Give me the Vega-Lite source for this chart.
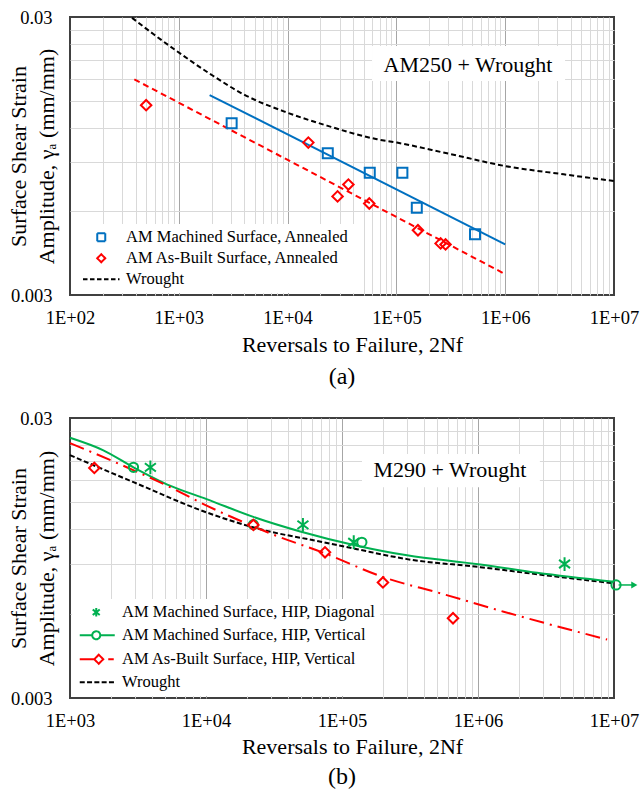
{
  "$schema": "https://vega.github.io/schema/vega-lite/v6.json",
  "background": "white",
  "padding": {"left": 5, "top": 7, "right": 0, "bottom": 0},
  "spacing": 18,
  "config": {
    "font": "Liberation Serif",
    "view": {"stroke": "#404040", "strokeWidth": 2},
    "axis": {
      "labelFont": "Liberation Serif", "titleFont": "Liberation Serif",
      "labelColor": "#000000", "titleColor": "#000000",
      "labelFontSize": 18.5, "titleFontSize": 22, "titleFontWeight": "normal",
      "ticks": false, "tickSize": 0, "domain": false, "grid": true, "gridWidth": 1,
      "labelFlush": false, "labelOverlap": false
    },
    "title": {"font": "Liberation Serif", "fontSize": 24, "fontWeight": "normal", "color": "#000000"}
  },
  "resolve": {"scale": {"x": "independent", "y": "independent", "color": "independent"}, "legend": {"color": "independent"}},
  "datasets": {
    "a_note": [{"label": "AM250 + Wrought"}],
    "a_m_pts": [
      {"series": "AM Machined Surface, Annealed", "N": 3060, "g": 0.01245},
      {"series": "AM Machined Surface, Annealed", "N": 23400, "g": 0.00971},
      {"series": "AM Machined Surface, Annealed", "N": 56900, "g": 0.00825},
      {"series": "AM Machined Surface, Annealed", "N": 113500, "g": 0.00825},
      {"series": "AM Machined Surface, Annealed", "N": 154000, "g": 0.00618},
      {"series": "AM Machined Surface, Annealed", "N": 528000, "g": 0.00496}
    ],
    "a_ab_pts": [
      {"series": "AM As-Built Surface, Annealed", "N": 501, "g": 0.01445},
      {"series": "AM As-Built Surface, Annealed", "N": 15500, "g": 0.0106},
      {"series": "AM As-Built Surface, Annealed", "N": 28800, "g": 0.00679},
      {"series": "AM As-Built Surface, Annealed", "N": 36200, "g": 0.00749},
      {"series": "AM As-Built Surface, Annealed", "N": 56300, "g": 0.0064},
      {"series": "AM As-Built Surface, Annealed", "N": 157800, "g": 0.00513},
      {"series": "AM As-Built Surface, Annealed", "N": 255000, "g": 0.0046},
      {"series": "AM As-Built Surface, Annealed", "N": 283000, "g": 0.00456}
    ],
    "a_m_fit": [
      {"series": "AM Machined Surface, Annealed", "N": 1920, "g": 0.01572},
      {"series": "AM Machined Surface, Annealed", "N": 1000000, "g": 0.00456}
    ],
    "a_ab_fit": [
      {"series": "AM As-Built Surface, Annealed", "N": 390, "g": 0.0179},
      {"series": "AM As-Built Surface, Annealed", "N": 955000, "g": 0.0036}
    ],
    "a_wrought": [
      {"series": "Wrought", "N": 372, "g": 0.0298},
      {"series": "Wrought", "N": 587, "g": 0.026},
      {"series": "Wrought", "N": 961, "g": 0.0226},
      {"series": "Wrought", "N": 1950, "g": 0.0187},
      {"series": "Wrought", "N": 3950, "g": 0.0158},
      {"series": "Wrought", "N": 9860, "g": 0.0136},
      {"series": "Wrought", "N": 23000, "g": 0.0122},
      {"series": "Wrought", "N": 66400, "g": 0.0109},
      {"series": "Wrought", "N": 101000, "g": 0.0106},
      {"series": "Wrought", "N": 292000, "g": 0.0097},
      {"series": "Wrought", "N": 1000000, "g": 0.00873},
      {"series": "Wrought", "N": 3450000, "g": 0.00815},
      {"series": "Wrought", "N": 10000000, "g": 0.00771}
    ],
    "b_note": [{"label": "M290 + Wrought"}],
    "b_diag": [
      {"series": "AM Machined Surface, HIP, Diagonal", "N": 3900, "g": 0.02},
      {"series": "AM Machined Surface, HIP, Diagonal", "N": 51600, "g": 0.01245},
      {"series": "AM Machined Surface, HIP, Diagonal", "N": 122000, "g": 0.0108},
      {"series": "AM Machined Surface, HIP, Diagonal", "N": 4330000, "g": 0.00903}
    ],
    "b_vert": [
      {"series": "AM Machined Surface, HIP, Vertical", "N": 2930, "g": 0.02},
      {"series": "AM Machined Surface, HIP, Vertical", "N": 22300, "g": 0.01248},
      {"series": "AM Machined Surface, HIP, Vertical", "N": 140000, "g": 0.0108},
      {"series": "AM Machined Surface, HIP, Vertical", "N": 10350000, "g": 0.0076}
    ],
    "b_ab": [
      {"series": "AM As-Built Surface, HIP, Vertical", "N": 1510, "g": 0.0199},
      {"series": "AM As-Built Surface, HIP, Vertical", "N": 22300, "g": 0.01245},
      {"series": "AM As-Built Surface, HIP, Vertical", "N": 75000, "g": 0.00994},
      {"series": "AM As-Built Surface, HIP, Vertical", "N": 200000, "g": 0.00776},
      {"series": "AM As-Built Surface, HIP, Vertical", "N": 655000, "g": 0.00578}
    ],
    "b_vert_fit": [
      {"series": "AM Machined Surface, HIP, Vertical", "N": 1000, "g": 0.0255},
      {"series": "AM Machined Surface, HIP, Vertical", "N": 1760, "g": 0.023},
      {"series": "AM Machined Surface, HIP, Vertical", "N": 2930, "g": 0.02},
      {"series": "AM Machined Surface, HIP, Vertical", "N": 5430, "g": 0.0172},
      {"series": "AM Machined Surface, HIP, Vertical", "N": 10100, "g": 0.0154},
      {"series": "AM Machined Surface, HIP, Vertical", "N": 22300, "g": 0.0133},
      {"series": "AM Machined Surface, HIP, Vertical", "N": 49300, "g": 0.0118},
      {"series": "AM Machined Surface, HIP, Vertical", "N": 128800, "g": 0.0105},
      {"series": "AM Machined Surface, HIP, Vertical", "N": 300600, "g": 0.0097},
      {"series": "AM Machined Surface, HIP, Vertical", "N": 701000, "g": 0.0092},
      {"series": "AM Machined Surface, HIP, Vertical", "N": 1040000, "g": 0.009},
      {"series": "AM Machined Surface, HIP, Vertical", "N": 2720000, "g": 0.0084},
      {"series": "AM Machined Surface, HIP, Vertical", "N": 10000000, "g": 0.0078}
    ],
    "b_ab_fit": [
      {"series": "AM As-Built Surface, HIP, Vertical", "N": 1000, "g": 0.0244},
      {"series": "AM As-Built Surface, HIP, Vertical", "N": 2080, "g": 0.021},
      {"series": "AM As-Built Surface, HIP, Vertical", "N": 5430, "g": 0.017},
      {"series": "AM As-Built Surface, HIP, Vertical", "N": 10100, "g": 0.0146},
      {"series": "AM As-Built Surface, HIP, Vertical", "N": 22300, "g": 0.0123},
      {"series": "AM As-Built Surface, HIP, Vertical", "N": 29800, "g": 0.0116},
      {"series": "AM As-Built Surface, HIP, Vertical", "N": 73300, "g": 0.0099},
      {"series": "AM As-Built Surface, HIP, Vertical", "N": 202000, "g": 0.0081},
      {"series": "AM As-Built Surface, HIP, Vertical", "N": 528000, "g": 0.0071},
      {"series": "AM As-Built Surface, HIP, Vertical", "N": 1545000, "g": 0.0061},
      {"series": "AM As-Built Surface, HIP, Vertical", "N": 8900000, "g": 0.00485}
    ],
    "b_wrought": [
      {"series": "Wrought", "N": 1000, "g": 0.0221},
      {"series": "Wrought", "N": 2930, "g": 0.0177},
      {"series": "Wrought", "N": 10100, "g": 0.0138},
      {"series": "Wrought", "N": 23700, "g": 0.0121},
      {"series": "Wrought", "N": 73300, "g": 0.0108},
      {"series": "Wrought", "N": 128800, "g": 0.0102},
      {"series": "Wrought", "N": 300600, "g": 0.0094},
      {"series": "Wrought", "N": 1040000, "g": 0.0088},
      {"series": "Wrought", "N": 2720000, "g": 0.0083},
      {"series": "Wrought", "N": 10000000, "g": 0.0077}
    ],
    "b_runout": [
      {"N": 10800000, "g": 0.0076},
      {"N": 13600000, "g": 0.0076}
    ],
    "b_runout_tip": [
      {"N": 14100000, "g": 0.0076}
    ]
  },
  "vconcat": [
    {
      "width": 544,
      "height": 278,
      "title": {"text": "(a)", "orient": "bottom", "anchor": "middle", "offset": 9},
      "layer": [
        {
          "data": {"name": "a_note"},
          "mark": {"type": "rect", "fill": "white"},
          "encoding": {
            "x": {"datum": 59700, "type": "quantitative",
              "scale": {"type": "log", "domain": [100, 10000000], "nice": false},
              "axis": {
                "title": "Reversals to Failure, 2Nf",
                "titleX": 282, "titleAlign": "center",
                "labelPadding": 13, "titlePadding": 8,
                "values": [100,200,300,400,500,600,700,800,900,1000,2000,3000,4000,5000,6000,7000,8000,9000,10000,20000,30000,40000,50000,60000,70000,80000,90000,100000,200000,300000,400000,500000,600000,700000,800000,900000,1000000,2000000,3000000,4000000,5000000,6000000,7000000,8000000,9000000,10000000],
                "labelExpr": "abs(log(datum.value)/LN10 - round(log(datum.value)/LN10)) < 0.001 ? '1E+0' + round(log(datum.value)/LN10) : ''",
                "gridColor": {"condition": {"test": "abs(log(datum.value)/LN10 - round(log(datum.value)/LN10)) < 0.001", "value": "#a6a6a6"}, "value": "#d9d9d9"},
                "gridOpacity": {"condition": {"test": "datum.value <= 100 || datum.value >= 10000000", "value": 0}, "value": 1}
              }
            },
            "x2": {"datum": 3550000},
            "y": {"datum": 0.02359, "type": "quantitative",
              "scale": {"type": "log", "domain": [0.003, 0.03], "nice": false},
              "axis": {
                "title": ["Surface Shear Strain", "Amplitude, γₐ (mm/mm)"],
                "titleAngle": -90, "titleX": -52, "titleY": 139, "titleAlign": "center", "titleBaseline": "middle", "titleLineHeight": 28,
                "labelPadding": 18,
                "values": [0.003, 0.006, 0.009, 0.012, 0.015, 0.018, 0.021, 0.024, 0.027, 0.03],
                "labelExpr": "datum.value == 0.03 ? '0.03' : datum.value == 0.003 ? '0.003' : ''",
                "gridColor": "#d9d9d9",
                "gridOpacity": {"condition": {"test": "datum.value <= 0.003 || datum.value >= 0.03", "value": 0}, "value": 1}
              }
            },
            "y2": {"datum": 0.01766}
          }
        },
        {
          "data": {"name": "a_note"},
          "mark": {"type": "text", "font": "Liberation Serif", "fontSize": 22, "align": "center", "baseline": "middle", "color": "#000000"},
          "encoding": {
            "x": {"datum": 455000, "type": "quantitative", "scale": {"type": "log", "domain": [100, 10000000], "nice": false}},
            "y": {"datum": 0.0202, "type": "quantitative", "scale": {"type": "log", "domain": [0.003, 0.03], "nice": false}},
            "text": {"field": "label"}
          }
        },
        {
          "data": {"name": "a_m_fit"},
          "mark": {"type": "line", "strokeWidth": 2},
          "encoding": {
            "x": {"field": "N", "type": "quantitative", "scale": {"type": "log", "domain": [100, 10000000], "nice": false}},
            "y": {"field": "g", "type": "quantitative", "scale": {"type": "log", "domain": [0.003, 0.03], "nice": false}},
            "color": {"field": "series", "type": "nominal",
              "scale": {"domain": ["AM Machined Surface, Annealed", "AM As-Built Surface, Annealed", "Wrought"], "range": ["#0070C0", "#FF0000", "#000000"]},
              "legend": {
                "orient": "bottom-left", "offset": 2, "title": null, "fillColor": "white", "padding": 5,
                "labelFont": "Liberation Serif", "labelFontSize": 16.5, "labelColor": "#000000", "labelLimit": 400,
                "symbolSize": 100, "symbolStrokeWidth": 2, "rowPadding": 4, "symbolOffset": 16, "labelOffset": 16.5,
                "encode": {"symbols": {"update": {
                  "shape": {"signal": "datum.value === 'Wrought' ? 'M-3.65,0H3.65' : datum.value === 'AM Machined Surface, Annealed' ? 'M-0.8,-0.8H0.8V0.8H-0.8Z' : 'M0,-0.8L0.8,0L0,0.8L-0.8,0Z'"},
                  "strokeDash": {"signal": "datum.value === 'Wrought' ? [4.5,2.5] : [1,0]"},
                  "fill": {"value": "transparent"},
                  "opacity": {"value": 1}
                }}}
              }
            }
          }
        },
        {
          "data": {"name": "a_ab_fit"},
          "mark": {"type": "line", "strokeWidth": 2, "strokeDash": [6, 4]},
          "encoding": {
            "x": {"field": "N", "type": "quantitative", "scale": {"type": "log", "domain": [100, 10000000], "nice": false}},
            "y": {"field": "g", "type": "quantitative", "scale": {"type": "log", "domain": [0.003, 0.03], "nice": false}},
            "color": {"field": "series", "type": "nominal", "scale": {"domain": ["AM Machined Surface, Annealed", "AM As-Built Surface, Annealed", "Wrought"], "range": ["#0070C0", "#FF0000", "#000000"]}}
          }
        },
        {
          "data": {"name": "a_wrought"},
          "mark": {"type": "line", "strokeWidth": 2, "strokeDash": [5, 3], "interpolate": "monotone"},
          "encoding": {
            "x": {"field": "N", "type": "quantitative", "scale": {"type": "log", "domain": [100, 10000000], "nice": false}},
            "y": {"field": "g", "type": "quantitative", "scale": {"type": "log", "domain": [0.003, 0.03], "nice": false}},
            "color": {"field": "series", "type": "nominal", "scale": {"domain": ["AM Machined Surface, Annealed", "AM As-Built Surface, Annealed", "Wrought"], "range": ["#0070C0", "#FF0000", "#000000"]}}
          }
        },
        {
          "data": {"name": "a_m_pts"},
          "mark": {"type": "point", "shape": "square", "filled": false, "size": 100, "strokeWidth": 2, "opacity": 1},
          "encoding": {
            "x": {"field": "N", "type": "quantitative", "scale": {"type": "log", "domain": [100, 10000000], "nice": false}},
            "y": {"field": "g", "type": "quantitative", "scale": {"type": "log", "domain": [0.003, 0.03], "nice": false}},
            "color": {"field": "series", "type": "nominal", "scale": {"domain": ["AM Machined Surface, Annealed", "AM As-Built Surface, Annealed", "Wrought"], "range": ["#0070C0", "#FF0000", "#000000"]}}
          }
        },
        {
          "data": {"name": "a_ab_pts"},
          "mark": {"type": "point", "shape": "diamond", "filled": false, "size": 110, "strokeWidth": 2, "opacity": 1},
          "encoding": {
            "x": {"field": "N", "type": "quantitative", "scale": {"type": "log", "domain": [100, 10000000], "nice": false}},
            "y": {"field": "g", "type": "quantitative", "scale": {"type": "log", "domain": [0.003, 0.03], "nice": false}},
            "color": {"field": "series", "type": "nominal", "scale": {"domain": ["AM Machined Surface, Annealed", "AM As-Built Surface, Annealed", "Wrought"], "range": ["#0070C0", "#FF0000", "#000000"]}}
          }
        }
      ]
    },
    {
      "width": 544,
      "height": 280,
      "title": {"text": "(b)", "orient": "bottom", "anchor": "middle", "offset": 7},
      "layer": [
        {
          "data": {"name": "b_note"},
          "mark": {"type": "rect", "fill": "white"},
          "encoding": {
            "x": {"datum": 140300, "type": "quantitative",
              "scale": {"type": "log", "domain": [1000, 10000000], "nice": false},
              "axis": {
                "title": "Reversals to Failure, 2Nf",
                "titleX": 282, "titleAlign": "center",
                "labelPadding": 13, "titlePadding": 7,
                "values": [1000,2000,3000,4000,5000,6000,7000,8000,9000,10000,20000,30000,40000,50000,60000,70000,80000,90000,100000,200000,300000,400000,500000,600000,700000,800000,900000,1000000,2000000,3000000,4000000,5000000,6000000,7000000,8000000,9000000,10000000],
                "labelExpr": "abs(log(datum.value)/LN10 - round(log(datum.value)/LN10)) < 0.001 ? '1E+0' + round(log(datum.value)/LN10) : ''",
                "gridColor": {"condition": {"test": "abs(log(datum.value)/LN10 - round(log(datum.value)/LN10)) < 0.001", "value": "#a6a6a6"}, "value": "#d9d9d9"},
                "gridOpacity": {"condition": {"test": "datum.value <= 1000 || datum.value >= 10000000", "value": 0}, "value": 1}
              }
            },
            "x2": {"datum": 2850000},
            "y": {"datum": 0.02231, "type": "quantitative",
              "scale": {"type": "log", "domain": [0.003, 0.03], "nice": false},
              "axis": {
                "title": ["Surface Shear Strain", "Amplitude, γₐ (mm/mm)"],
                "titleAngle": -90, "titleX": -52, "titleY": 140, "titleAlign": "center", "titleBaseline": "middle", "titleLineHeight": 28,
                "labelPadding": 18,
                "values": [0.003, 0.006, 0.009, 0.012, 0.015, 0.018, 0.021, 0.024, 0.027, 0.03],
                "labelExpr": "datum.value == 0.03 ? '0.03' : datum.value == 0.003 ? '0.003' : ''",
                "gridColor": "#d9d9d9",
                "gridOpacity": {"condition": {"test": "datum.value <= 0.003 || datum.value >= 0.03", "value": 0}, "value": 1}
              }
            },
            "y2": {"datum": 0.01697}
          }
        },
        {
          "data": {"name": "b_note"},
          "mark": {"type": "text", "font": "Liberation Serif", "fontSize": 22, "align": "center", "baseline": "middle", "color": "#000000"},
          "encoding": {
            "x": {"datum": 622000, "type": "quantitative", "scale": {"type": "log", "domain": [1000, 10000000], "nice": false}},
            "y": {"datum": 0.0195, "type": "quantitative", "scale": {"type": "log", "domain": [0.003, 0.03], "nice": false}},
            "text": {"field": "label"}
          }
        },
        {
          "data": {"name": "b_wrought"},
          "mark": {"type": "line", "strokeWidth": 2, "strokeDash": [5, 2.5], "interpolate": "monotone"},
          "encoding": {
            "x": {"field": "N", "type": "quantitative", "scale": {"type": "log", "domain": [1000, 10000000], "nice": false}},
            "y": {"field": "g", "type": "quantitative", "scale": {"type": "log", "domain": [0.003, 0.03], "nice": false}},
            "color": {"field": "series", "type": "nominal",
              "scale": {"domain": ["AM Machined Surface, HIP, Diagonal", "AM Machined Surface, HIP, Vertical", "AM As-Built Surface, HIP, Vertical", "Wrought"], "range": ["#00B050", "#00B050", "#FF0000", "#000000"]},
              "legend": {
                "orient": "bottom-left", "offset": 2, "title": null, "fillColor": "white", "padding": 5,
                "labelFont": "Liberation Serif", "labelFontSize": 16.5, "labelColor": "#000000", "labelLimit": 400,
                "symbolSize": 100, "symbolStrokeWidth": 2, "rowPadding": 6, "symbolOffset": 11, "labelOffset": 17.5,
                "encode": {"symbols": {"update": {
                  "shape": {"signal": "datum.value === 'Wrought' ? 'M-3.3,0H4' : datum.value === 'AM Machined Surface, HIP, Diagonal' ? 'M-0.7,-0.55L0.7,0.55M-0.7,0.55L0.7,-0.55M0,-0.85V0.85' : datum.value === 'AM Machined Surface, HIP, Vertical' ? 'M-3.3,0H-0.8M0.8,0H3.7M-0.8,0A0.8,0.8 0 1,1 0.8,0A0.8,0.8 0 1,1 -0.8,0' : 'M-3.3,0H-0.4M2.4,0H3.5M0.5,-0.9L1.4,0L0.5,0.9L-0.4,0Z'"},
                  "strokeDash": {"signal": "datum.value === 'Wrought' ? [5,2.3] : [1,0]"},
                  "fill": {"value": "transparent"},
                  "opacity": {"value": 1}
                }}}
              }
            }
          }
        },
        {
          "data": {"name": "b_vert_fit"},
          "mark": {"type": "line", "strokeWidth": 2, "interpolate": "monotone"},
          "encoding": {
            "x": {"field": "N", "type": "quantitative", "scale": {"type": "log", "domain": [1000, 10000000], "nice": false}},
            "y": {"field": "g", "type": "quantitative", "scale": {"type": "log", "domain": [0.003, 0.03], "nice": false}},
            "color": {"field": "series", "type": "nominal", "scale": {"domain": ["AM Machined Surface, HIP, Diagonal", "AM Machined Surface, HIP, Vertical", "AM As-Built Surface, HIP, Vertical", "Wrought"], "range": ["#00B050", "#00B050", "#FF0000", "#000000"]}}
          }
        },
        {
          "data": {"name": "b_ab_fit"},
          "mark": {"type": "line", "strokeWidth": 2, "strokeDash": [15, 6, 2, 6], "interpolate": "monotone"},
          "encoding": {
            "x": {"field": "N", "type": "quantitative", "scale": {"type": "log", "domain": [1000, 10000000], "nice": false}},
            "y": {"field": "g", "type": "quantitative", "scale": {"type": "log", "domain": [0.003, 0.03], "nice": false}},
            "color": {"field": "series", "type": "nominal", "scale": {"domain": ["AM Machined Surface, HIP, Diagonal", "AM Machined Surface, HIP, Vertical", "AM As-Built Surface, HIP, Vertical", "Wrought"], "range": ["#00B050", "#00B050", "#FF0000", "#000000"]}}
          }
        },
        {
          "data": {"name": "b_runout"},
          "mark": {"type": "line", "strokeWidth": 1.5, "color": "#00B050"},
          "encoding": {
            "x": {"field": "N", "type": "quantitative", "scale": {"type": "log", "domain": [1000, 10000000], "nice": false}},
            "y": {"field": "g", "type": "quantitative", "scale": {"type": "log", "domain": [0.003, 0.03], "nice": false}}
          }
        },
        {
          "data": {"name": "b_runout_tip"},
          "mark": {"type": "point", "shape": "triangle-right", "filled": true, "size": 50, "color": "#00B050", "opacity": 1},
          "encoding": {
            "x": {"field": "N", "type": "quantitative", "scale": {"type": "log", "domain": [1000, 10000000], "nice": false}},
            "y": {"field": "g", "type": "quantitative", "scale": {"type": "log", "domain": [0.003, 0.03], "nice": false}}
          }
        },
        {
          "data": {"name": "b_vert"},
          "mark": {"type": "point", "shape": "circle", "filled": false, "size": 85, "strokeWidth": 2, "opacity": 1},
          "encoding": {
            "x": {"field": "N", "type": "quantitative", "scale": {"type": "log", "domain": [1000, 10000000], "nice": false}},
            "y": {"field": "g", "type": "quantitative", "scale": {"type": "log", "domain": [0.003, 0.03], "nice": false}},
            "color": {"field": "series", "type": "nominal", "scale": {"domain": ["AM Machined Surface, HIP, Diagonal", "AM Machined Surface, HIP, Vertical", "AM As-Built Surface, HIP, Vertical", "Wrought"], "range": ["#00B050", "#00B050", "#FF0000", "#000000"]}}
          }
        },
        {
          "data": {"name": "b_ab"},
          "mark": {"type": "point", "shape": "diamond", "filled": false, "size": 110, "strokeWidth": 2, "opacity": 1},
          "encoding": {
            "x": {"field": "N", "type": "quantitative", "scale": {"type": "log", "domain": [1000, 10000000], "nice": false}},
            "y": {"field": "g", "type": "quantitative", "scale": {"type": "log", "domain": [0.003, 0.03], "nice": false}},
            "color": {"field": "series", "type": "nominal", "scale": {"domain": ["AM Machined Surface, HIP, Diagonal", "AM Machined Surface, HIP, Vertical", "AM As-Built Surface, HIP, Vertical", "Wrought"], "range": ["#00B050", "#00B050", "#FF0000", "#000000"]}}
          }
        },
        {
          "data": {"name": "b_diag"},
          "mark": {"type": "point", "shape": "M-1,-0.75L1,0.75M-1,0.75L1,-0.75M0,-1.25V1.25", "filled": false, "size": 121, "strokeWidth": 2, "opacity": 1},
          "encoding": {
            "x": {"field": "N", "type": "quantitative", "scale": {"type": "log", "domain": [1000, 10000000], "nice": false}},
            "y": {"field": "g", "type": "quantitative", "scale": {"type": "log", "domain": [0.003, 0.03], "nice": false}},
            "color": {"field": "series", "type": "nominal", "scale": {"domain": ["AM Machined Surface, HIP, Diagonal", "AM Machined Surface, HIP, Vertical", "AM As-Built Surface, HIP, Vertical", "Wrought"], "range": ["#00B050", "#00B050", "#FF0000", "#000000"]}}
          }
        }
      ]
    }
  ]
}
